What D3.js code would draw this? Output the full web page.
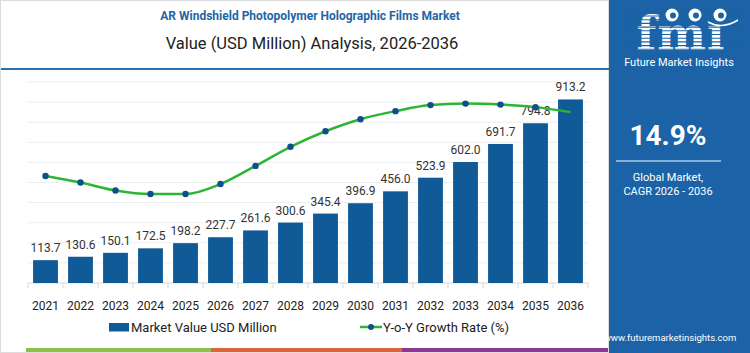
<!DOCTYPE html>
<html>
<head>
<meta charset="utf-8">
<script src="https://cdn.jsdelivr.net/npm/d3@7"></script>
<style>
  body { margin: 0; background: #ffffff; }
  svg { display: block; }
</style>
</head>
<body>
<div id="chart"></div>
<script>
// Data
const years = ["2021", "2022", "2023", "2024", "2025", "2026", "2027", "2028",
    "2029", "2030", "2031", "2032", "2033", "2034", "2035", "2036"];
const marketValue = [113.7, 130.6, 150.1, 172.5, 198.2, 227.7, 261.6, 300.6,
    345.4, 396.9, 456.0, 523.9, 602.0, 691.7, 794.8, 913.2];
const growthRate = [14.63, 14.50, 14.34, 14.27, 14.27, 14.47, 14.83, 15.21,
    15.52, 15.76, 15.92, 16.04, 16.07, 16.05, 16.00, 15.90];
const valueTicks = [0, 100, 200, 300, 400, 500, 600, 700, 800, 900, 1000];

const W = 750, H = 353;
const font = "Roboto, 'Open Sans', sans-serif";
const barColor = "#105a97";
const lineColor = "#2cb534";
const dotColor = "#0e4f8c";
const panelColor = "#1b63a6";

svg = d3.select("#chart")
    .append("svg")
    .attr("width", W)
    .attr("height", H);

// Outer frame
svg.append("rect")
    .attr("x", 0.5)
    .attr("y", 0.5)
    .attr("width", 608)
    .attr("height", H - 1)
    .style("fill", "#ffffff")
    .style("stroke", "#dcdcdc")
    .style("stroke-width", 1);

// Scales
x = d3.scaleBand()
    .domain(years)
    .range([28, 588])
    .paddingInner(0.29)
    .paddingOuter(0.145);

y = d3.scaleLinear()
    .domain([0, 1000])
    .range([283, 82]);

yg = d3.scaleLinear()
    .domain([12.5, 16.5])
    .range([283, 82]);

// Gridlines
svg.append("g")
    .selectAll("line")
    .data(valueTicks)
    .join("line")
    .attr("x1", x.range()[0])
    .attr("x2", x.range()[1])
    .attr("y1", d => y(d))
    .attr("y2", d => y(d))
    .style("stroke", d => d === 0 ? "#d6d6d6" : "#ededed")
    .style("stroke-width", 1);

// Ticks between the categories
svg.append("g")
    .selectAll("line")
    .data(d3.range(years.length + 1))
    .join("line")
    .attr("x1", i => x.range()[0] + i * x.step())
    .attr("x2", i => x.range()[0] + i * x.step())
    .attr("y1", y(0))
    .attr("y2", y(0) + 5)
    .style("stroke", "#d6d6d6")
    .style("stroke-width", 1);

// Year labels
xAxis = svg.append("g")
    .attr("transform", `translate(0, ${y(0)})`)
    .call(d3.axisBottom(x).tickSize(0).tickPadding(18));
xAxis.select(".domain").remove();
xAxis.selectAll("text")
    .style("font-family", font)
    .style("font-size", "12px")
    .style("fill", "#222");

// Bars
svg.append("g")
    .selectAll("rect")
    .data(years)
    .join("rect")
    .attr("x", d => x(d))
    .attr("y", (d, i) => y(marketValue[i]))
    .attr("width", x.bandwidth())
    .attr("height", (d, i) => y(0) - y(marketValue[i]))
    .style("fill", barColor);

// Bar labels
svg.append("g")
    .selectAll("text")
    .data(years)
    .join("text")
    .text((d, i) => marketValue[i].toFixed(1))
    .attr("x", d => x(d) + x.bandwidth() / 2)
    .attr("y", (d, i) => y(marketValue[i]) - 8)
    .attr("text-anchor", "middle")
    .style("font-family", font)
    .style("font-size", "12px")
    .style("fill", "#333");

// Growth line
const lineData = years.map((d, i) => ({year: d, g: growthRate[i]}));
svg.append("path")
    .datum(lineData)
    .attr("d", d3.line()
        .x(d => x(d.year) + x.bandwidth() / 2)
        .y(d => yg(d.g))
        .curve(d3.curveMonotoneX))
    .style("fill", "none")
    .style("stroke", lineColor)
    .style("stroke-width", 2.5);

svg.append("g")
    .selectAll("circle")
    .data(lineData.slice(0, -1))
    .join("circle")
    .attr("cx", d => x(d.year) + x.bandwidth() / 2)
    .attr("cy", d => yg(d.g))
    .attr("r", 3.2)
    .style("fill", dotColor);

// Titles
svg.append("text")
    .text("AR Windshield Photopolymer Holographic Films Market")
    .attr("x", 310)
    .attr("y", 20)
    .attr("text-anchor", "middle")
    .style("font-family", font)
    .style("font-size", "12px")
    .style("font-weight", "bold")
    .style("fill", "#1f66a6");

svg.append("text")
    .text("Value (USD Million) Analysis, 2026-2036")
    .attr("x", 312)
    .attr("y", 49)
    .attr("text-anchor", "middle")
    .style("font-family", font)
    .style("font-size", "16.5px")
    .style("fill", "#222");

svg.append("line")
    .attr("x1", 1)
    .attr("x2", 609)
    .attr("y1", 69)
    .attr("y2", 69)
    .style("stroke", "#2a6fae")
    .style("stroke-width", 2.2);

// Legend
legend = svg.append("g");
legend.append("rect")
    .attr("x", 109)
    .attr("y", 323)
    .attr("width", 20)
    .attr("height", 8.5)
    .style("fill", barColor);
legend.append("text")
    .text("Market Value USD Million")
    .attr("x", 131)
    .attr("y", 332)
    .style("font-family", font)
    .style("font-size", "13px")
    .style("fill", "#222");

legend.append("line")
    .attr("x1", 360)
    .attr("x2", 382)
    .attr("y1", 327)
    .attr("y2", 327)
    .style("stroke", lineColor)
    .style("stroke-width", 2.5);
legend.append("circle")
    .attr("cx", 371)
    .attr("cy", 327)
    .attr("r", 3)
    .style("fill", dotColor);
legend.append("text")
    .text("Y-o-Y Growth Rate (%)")
    .attr("x", 383)
    .attr("y", 332)
    .style("font-family", font)
    .style("font-size", "13px")
    .style("fill", "#222");

// Bottom colour strip
const strip = [
    {x0: 26, x1: 211, c: "#8cc04b"},
    {x0: 211, x1: 402, c: "#e0643a"},
    {x0: 402, x1: 608, c: "#8e3896"}
];
svg.append("g")
    .selectAll("rect")
    .data(strip)
    .join("rect")
    .attr("x", d => d.x0)
    .attr("y", 348)
    .attr("width", d => d.x1 - d.x0)
    .attr("height", 4)
    .style("fill", d => d.c);

// Right panel
panel = svg.append("g");
panel.append("rect")
    .attr("x", 609)
    .attr("y", 0)
    .attr("width", W - 609)
    .attr("height", H)
    .style("fill", panelColor);

// fmi logo (striped letters with three globes)
logo = panel.append("g");
logo.append("text")
    .text("fmı")
    .attr("x", 681)
    .attr("y", 50)
    .attr("text-anchor", "middle")
    .style("font-family", "'DejaVu Serif', serif")
    .style("font-size", "46px")
    .style("font-weight", "bold")
    .style("letter-spacing", "1px")
    .style("fill", "#ffffff");
for (let i = 0; i < 10; i++) {
    logo.append("line")
        .attr("x1", 622)
        .attr("x2", 742)
        .attr("y1", 16 + i * 3.7)
        .attr("y2", 16 + i * 3.7)
        .style("stroke", panelColor)
        .style("stroke-width", 1.1);
}
[672, 695, 720].forEach(cx => {
    logo.append("circle")
        .attr("cx", cx)
        .attr("cy", 15)
        .attr("r", 6.5)
        .style("fill", "#ffffff");
    logo.append("circle")
        .attr("cx", cx + 1)
        .attr("cy", 15.5)
        .attr("r", 3)
        .style("fill", panelColor);
});
logo.append("path")
    .attr("d", "M708 22 Q722 30 738 20")
    .style("fill", "none")
    .style("stroke", "#ffffff")
    .style("stroke-width", 1.5);
panel.append("text")
    .text("Future Market Insights")
    .attr("x", 679)
    .attr("y", 65.5)
    .attr("text-anchor", "middle")
    .style("font-family", font)
    .style("font-size", "11px")
    .style("fill", "#ffffff");

panel.append("text")
    .text("14.9%")
    .attr("x", 668)
    .attr("y", 145)
    .attr("text-anchor", "middle")
    .style("font-family", font)
    .style("font-size", "28px")
    .style("font-weight", "bold")
    .style("fill", "#ffffff");

panel.append("line")
    .attr("x1", 616)
    .attr("x2", 721)
    .attr("y1", 161)
    .attr("y2", 161)
    .style("stroke", "#a9c9e8")
    .style("stroke-width", 1.5);

panel.append("text")
    .text("Global Market,")
    .attr("x", 668)
    .attr("y", 180.5)
    .attr("text-anchor", "middle")
    .style("font-family", font)
    .style("font-size", "11px")
    .style("fill", "#ffffff");
panel.append("text")
    .text("CAGR 2026 - 2036")
    .attr("x", 668)
    .attr("y", 195)
    .attr("text-anchor", "middle")
    .style("font-family", font)
    .style("font-size", "11px")
    .style("fill", "#ffffff");

panel.append("text")
    .text("www.futuremarketinsights.com")
    .attr("x", 670)
    .attr("y", 341)
    .attr("text-anchor", "middle")
    .style("font-family", font)
    .style("font-size", "9.5px")
    .style("fill", "#ffffff");
</script>
</body>
</html>
